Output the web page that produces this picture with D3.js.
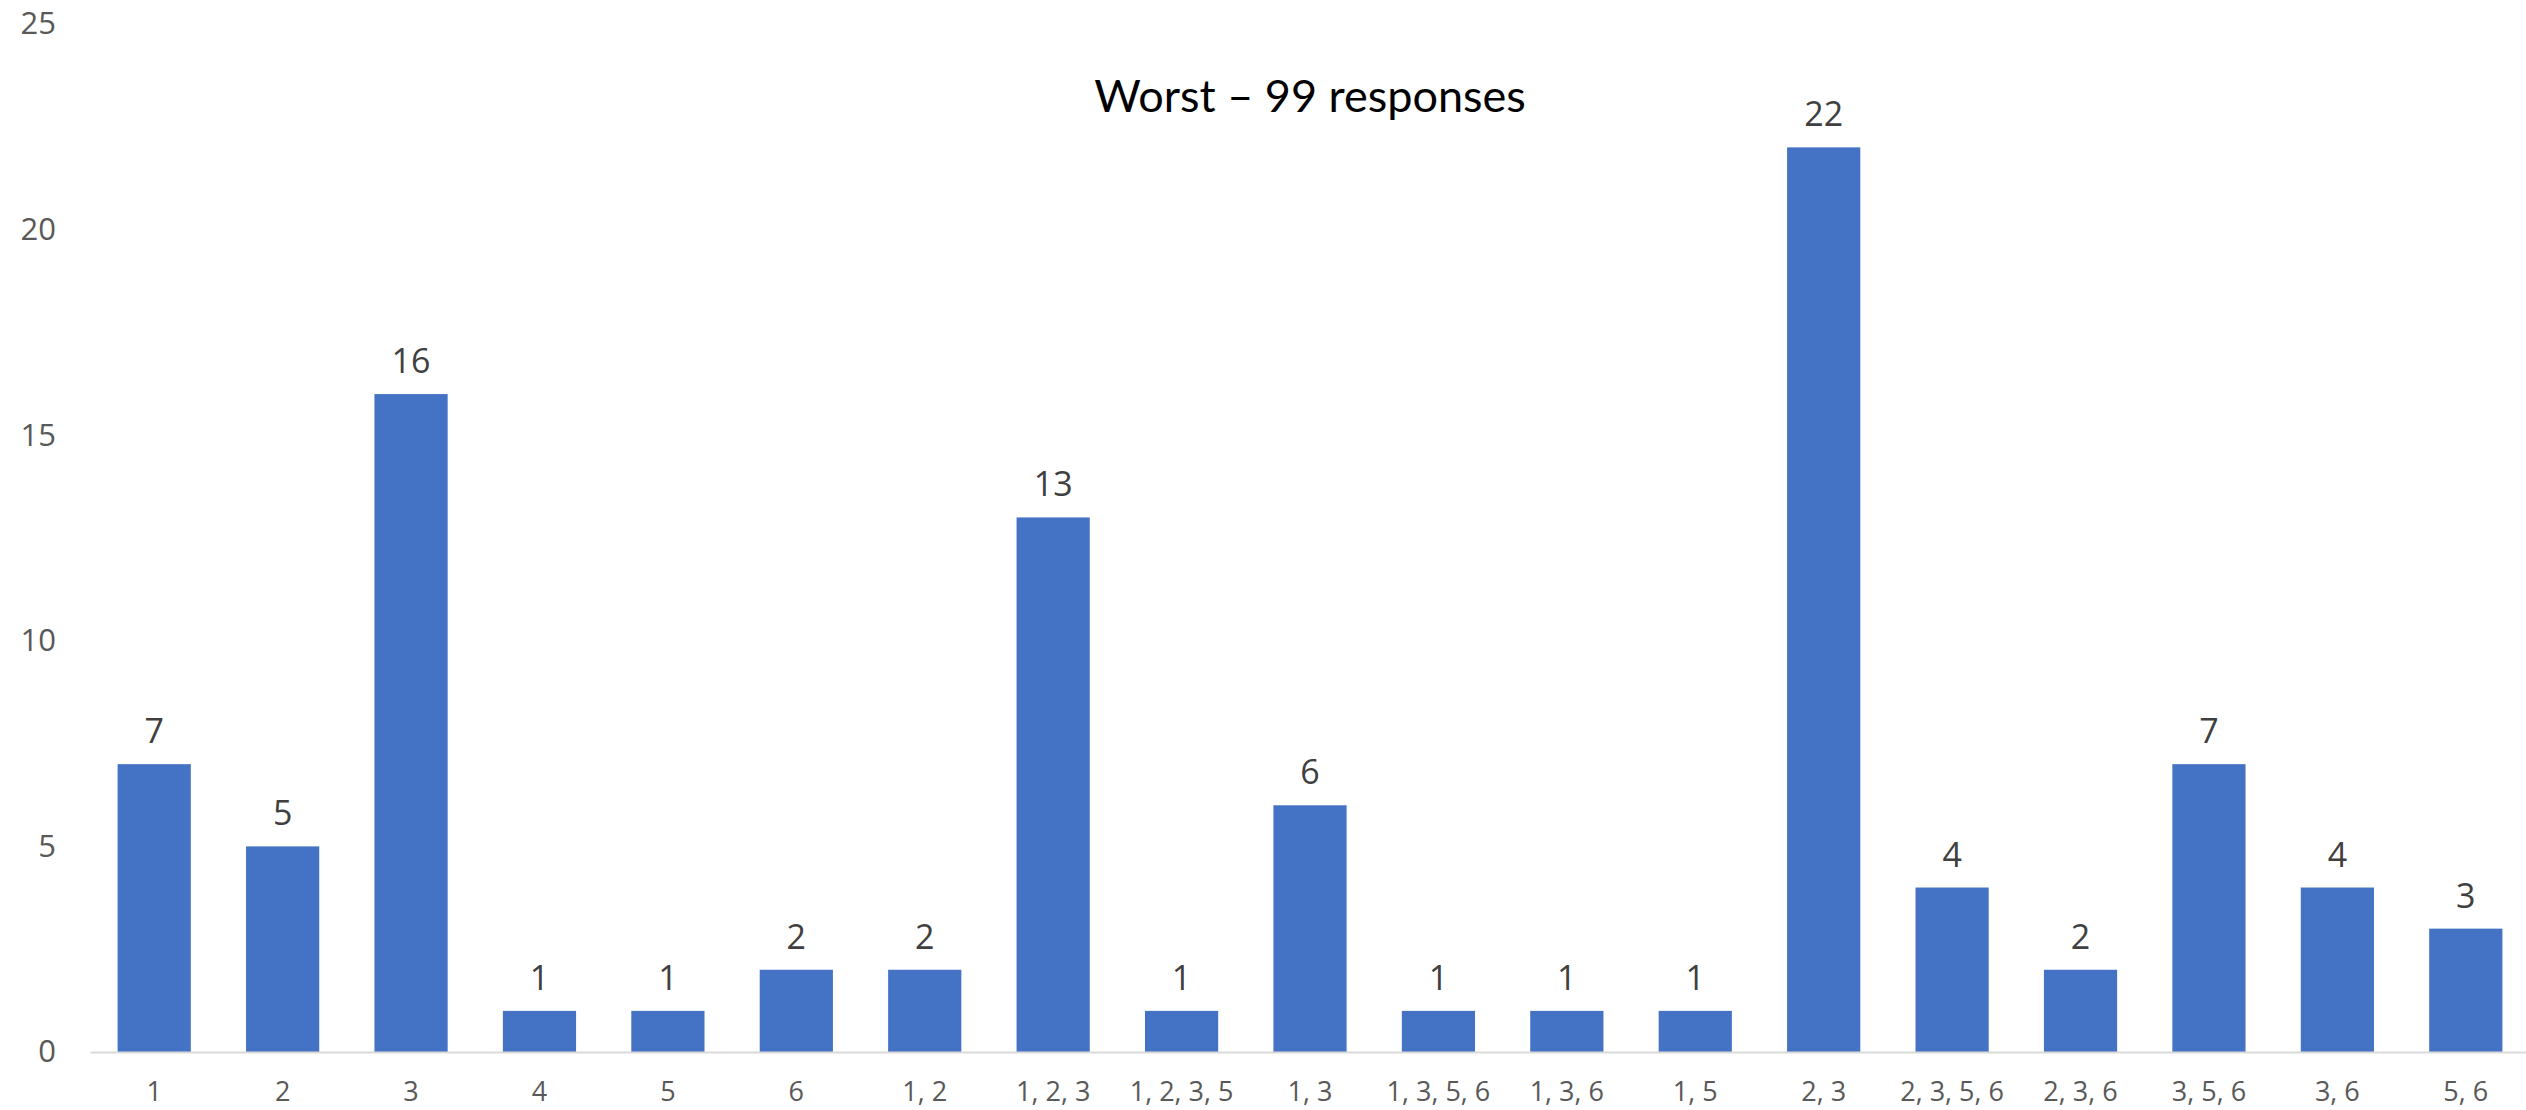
<!DOCTYPE html>
<html>
<head>
<meta charset="utf-8">
<script src="https://cdn.jsdelivr.net/npm/d3@7"></script>
<style>
  html, body { margin: 0; padding: 0; background: #fff; }
  svg { display: block; }
</style>
</head>
<body>
<div id="chart"></div>
<script>
const categories = ['1', '2', '3', '4', '5', '6', '1, 2', '1, 2, 3', '1, 2, 3, 5', '1, 3',
  '1, 3, 5, 6', '1, 3, 6', '1, 5', '2, 3', '2, 3, 5, 6', '2, 3, 6', '3, 5, 6', '3, 6', '5, 6'];
const counts = [7, 5, 16, 1, 1, 2, 2, 13, 1, 6, 1, 1, 1, 22, 4, 2, 7, 4, 3];
const yTicks = [0, 5, 10, 15, 20, 25];
const title = 'Worst \u2013 99 responses';

const width = 2526;
const height = 1110;
const font = '"Open Sans", "Noto Sans", sans-serif';

const svg = d3.select('#chart')
  .append('svg')
  .attr('width', width)
  .attr('height', height);

const x = d3.scaleBand()
  .domain(categories)
  .range([90, 2530])
  .paddingInner(0.43)
  .paddingOuter(0.215);

const y = d3.scaleLinear()
  .domain([0, 25])
  .range([1052, 24]);

// y axis labels only, no line or gridlines
const yAxis = svg.append('g')
  .attr('transform', 'translate(56,0)')
  .call(d3.axisLeft(y).tickValues(yTicks).tickSize(0).tickPadding(0));
yAxis.select('.domain').remove();
yAxis.selectAll('text')
  .style('font-family', font)
  .style('font-size', '31px')
  .style('fill', '#595959');

// bars
svg.selectAll('rect.bar')
  .data(counts)
  .enter()
  .append('rect')
  .attr('class', 'bar')
  .attr('x', (d, i) => x(categories[i]))
  .attr('width', x.bandwidth())
  .attr('y', d => y(d))
  .attr('height', d => y(0) - y(d))
  .attr('fill', '#4472C4');

// x axis
const xAxis = svg.append('g')
  .attr('transform', `translate(0,${y(0)})`)
  .call(d3.axisBottom(x).tickSize(0).tickPadding(30));
xAxis.select('.domain')
  .attr('stroke', '#d9d9d9')
  .attr('stroke-width', 2);
xAxis.selectAll('text')
  .style('font-family', font)
  .style('font-size', '27px')
  .style('fill', '#595959');

// value labels
svg.selectAll('text.val')
  .data(counts)
  .enter()
  .append('text')
  .attr('class', 'val')
  .attr('x', (d, i) => x(categories[i]) + x.bandwidth() / 2)
  .attr('y', d => y(d) - 21)
  .attr('text-anchor', 'middle')
  .style('font-family', font)
  .style('font-size', '34px')
  .style('fill', '#404040')
  .text(d => d);

svg.append('text')
  .attr('x', 1310)
  .attr('y', 112)
  .attr('text-anchor', 'middle')
  .style('font-family', '"Liberation Sans Narrow", Lato, sans-serif')
  .style('font-size', '45px')
  .style('fill', '#000')
  .text(title);
</script>
</body>
</html>
